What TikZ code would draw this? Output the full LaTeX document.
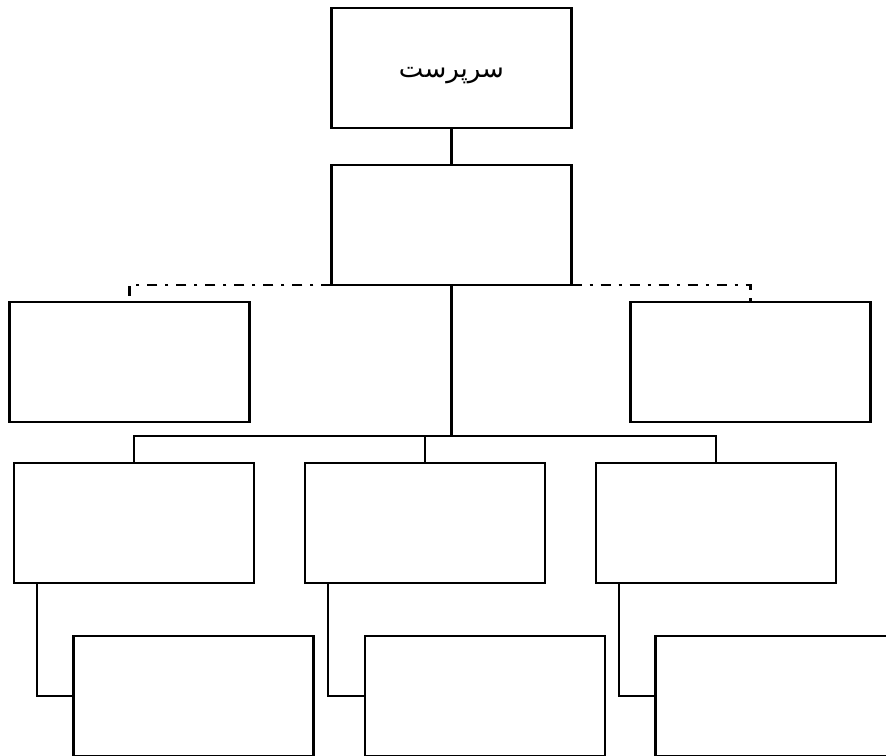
\documentclass[tikz,border=0pt]{standalone}
\usepackage{fontspec}
\newfontfamily\arabicfont[Script=Arabic]{DejaVu Sans}
\TeXXeTstate=1
\usetikzlibrary{positioning}
\tikzset{
    box/.style={
        draw,
        line width=2.4pt,
        minimum width=240pt,
        minimum height=120pt,
        inner sep=0pt,
        outer sep=0pt,
        align=center
    },
    line/.style={line width=2.4pt},
    dashdotline/.style={line width=2.4pt, dash pattern=on 10pt off 8pt on 3pt off 8pt}
}
\begin{document}
\begin{tikzpicture}
\useasboundingbox (-451.5pt,68pt) rectangle (434.5pt,-687pt);
\clip (-451.5pt,68pt) rectangle (434.5pt,-687pt);

\node[box] (head) {\raisebox{-9pt}[0pt][0pt]{\fontsize{26}{30}\selectfont\arabicfont\beginR سرپرست\endR}};
\node[box, below=37pt of head] (deputy) {};

\node[box, below=17pt of deputy, xshift=-322pt] (advisorL) {};
\node[box, below=17pt of deputy, xshift=299pt] (advisorR) {};

\node[box, below=178pt of deputy, xshift=-26.5pt] (unitB) {};
\node[box, left=51pt of unitB] (unitA) {};
\node[box, right=51pt of unitB] (unitC) {};

\node[box, below=53pt of unitA, xshift=59.5pt] (subA) {};
\node[box, below=53pt of unitB, xshift=60pt] (subB) {};
\node[box, below=53pt of unitC, xshift=59.5pt] (subC) {};

\draw[line] (head) -- (deputy);
\draw[dashdotline] (deputy.south west) -| (advisorL.north);
\draw[dashdotline] (deputy.south east) -| (advisorR.north);

\draw[line] (deputy.south) -- ++(0,-151pt) coordinate (hub);
\draw[line] (unitA.north) |- (hub) -| (unitC.north);
\draw[line] (unitB.north) -- (unitB.north |- hub);

\draw[line] ([xshift=23pt]unitA.south west) |- (subA.west);
\draw[line] ([xshift=23pt]unitB.south west) |- (subB.west);
\draw[line] ([xshift=23pt]unitC.south west) |- (subC.west);
\end{tikzpicture}
\end{document}
